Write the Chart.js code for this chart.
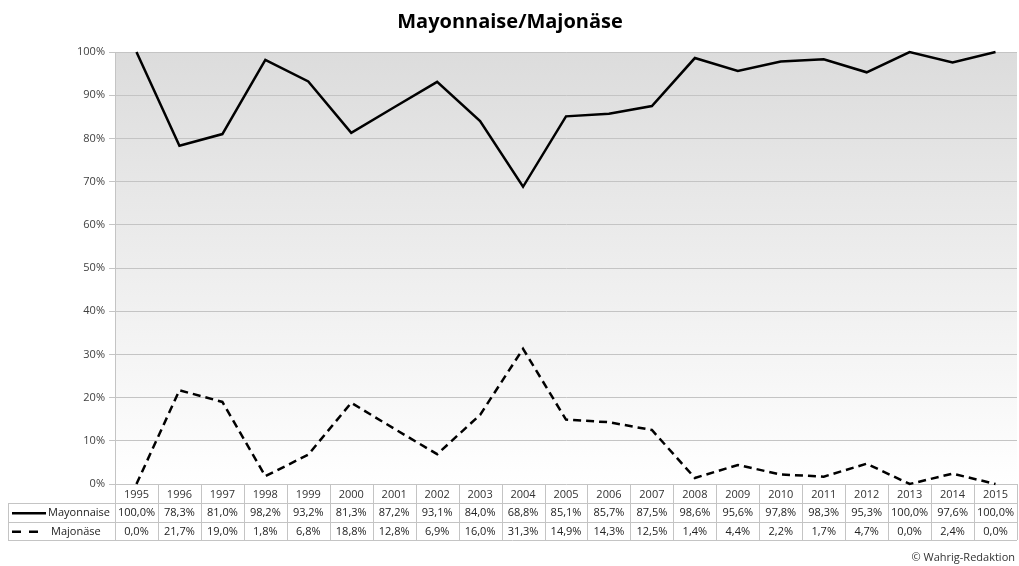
<!DOCTYPE html>
<html><head><meta charset="utf-8">
<script src="https://cdn.jsdelivr.net/npm/chart.js@4"></script>
<style>html,body{margin:0;padding:0;background:#fff}#wrap{width:1019px;height:566px;position:relative}</style>
</head><body><div id="wrap"><canvas id="c"></canvas></div>
<script>
const years = ['1995','1996','1997','1998','1999','2000','2001','2002','2003','2004','2005','2006','2007','2008','2009','2010','2011','2012','2013','2014','2015'];
const mayonnaise = [100.0,78.3,81.0,98.2,93.2,81.3,87.2,93.1,84.0,68.8,85.1,85.7,87.5,98.6,95.6,97.8,98.3,95.3,100.0,97.6,100.0];
const majonaese = [0.0,21.7,19.0,1.8,6.8,18.8,12.8,6.9,16.0,31.3,14.9,14.3,12.5,1.4,4.4,2.2,1.7,4.7,0.0,2.4,0.0];
const seriesNames = ['Mayonnaise','Majonäse'];
const chartTitle = 'Mayonnaise/Majonäse';
const credit = '© Wahrig-Redaktion';
const FONT = '"Open Sans", "Liberation Sans", sans-serif';

function fmt(v){ return v.toFixed(1).replace('.', ',') + '%'; }

const bgPlugin = {
  id: 'bg',
  beforeDraw(chart){
    const {ctx, chartArea:a} = chart;
    const g = ctx.createLinearGradient(0, a.top, 0, a.bottom);
    g.addColorStop(0, '#dcdcdc');
    g.addColorStop(1, '#ffffff');
    ctx.save();
    ctx.fillStyle = g;
    ctx.fillRect(a.left, a.top, a.right - a.left, a.bottom - a.top);
    ctx.restore();
  }
};

const tablePlugin = {
  id: 'table',
  afterDraw(chart){
    const {ctx, chartArea:a} = chart;
    const xs = chart.scales.x;
    const n = years.length;
    const w = (a.right - a.left) / n;
    const top = a.bottom;
    const r1 = top + 19, r2 = r1 + 18.5, r3 = r2 + 18.5;
    const tabLeft = 8;
    ctx.save();
    ctx.strokeStyle = '#c4c4c4';
    ctx.lineWidth = 1;
    ctx.beginPath();
    for (let i = 0; i <= n; i++) {
      const x = Math.round((i < n ? xs.getPixelForValue(i) - w/2 : xs.getPixelForValue(n-1) + w/2)) + 0.5;
      ctx.moveTo(x, top); ctx.lineTo(x, r3);
    }
    ctx.moveTo(tabLeft + 0.5, r1); ctx.lineTo(tabLeft + 0.5, r3);
    [r1, r2, r3].forEach(y => { const yy = Math.round(y) + 0.5; ctx.moveTo(tabLeft, yy); ctx.lineTo(a.right, yy); });
    ctx.stroke();

    ctx.font = '11px ' + FONT;
    ctx.textAlign = 'center';
    ctx.textBaseline = 'middle';
    for (let i = 0; i < n; i++) {
      const cx = xs.getPixelForValue(i);
      ctx.fillStyle = '#333';
      ctx.fillText(years[i], cx, (top + r1)/2 + 1);
      ctx.fillStyle = '#222';
      ctx.fillText(fmt(mayonnaise[i]), cx, (r1 + r2)/2 + 1);
      ctx.fillText(fmt(majonaese[i]), cx, (r2 + r3)/2 + 1);
    }
    ctx.textAlign = 'left';
    ctx.fillText(seriesNames[0], 48, (r1 + r2)/2 + 1);
    ctx.fillText(seriesNames[1], 51, (r2 + r3)/2 + 1);
    ctx.strokeStyle = '#000';
    ctx.lineWidth = 2.5;
    ctx.beginPath();
    ctx.moveTo(12, (r1 + r2)/2 + 1); ctx.lineTo(46, (r1 + r2)/2 + 1);
    ctx.stroke();
    ctx.setLineDash([9, 8]);
    ctx.beginPath();
    ctx.moveTo(12, (r2 + r3)/2 + 1); ctx.lineTo(42, (r2 + r3)/2 + 1);
    ctx.stroke();
    ctx.setLineDash([]);

    ctx.fillStyle = '#000';
    ctx.font = 'bold 20px ' + FONT;
    ctx.textAlign = 'center';
    ctx.fillText(chartTitle, 510, 22);
    ctx.fillStyle = '#333';
    ctx.font = '11px ' + FONT;
    ctx.textAlign = 'right';
    ctx.fillText(credit, 1015, 558);
    ctx.restore();
  }
};

new Chart(document.getElementById('c'), {
  type: 'line',
  data: {
    labels: years,
    datasets: [
      { label: seriesNames[0], data: mayonnaise, borderColor: '#000', borderWidth: 2.5, pointRadius: 0, tension: 0, clip: false },
      { label: seriesNames[1], data: majonaese, borderColor: '#000', borderWidth: 2.5, borderDash: [8, 5], pointRadius: 0, tension: 0, clip: false }
    ]
  },
  options: {
    responsive: true,
    maintainAspectRatio: false,
    animation: false,
    devicePixelRatio: 1,
    layout: { padding: { top: 52, right: 2, left: 0, bottom: 0 } },
    plugins: { legend: { display: false }, title: { display: false }, tooltip: { enabled: false } },
    scales: {
      x: {
        offset: true,
        ticks: { display: false },
        grid: { display: false },
        border: { display: false },
        afterFit(s){ s.height = 82; }
      },
      y: {
        min: 0, max: 100,
        ticks: { stepSize: 10, callback: v => v + '%', color: '#404040', font: { size: 11, family: FONT }, padding: 4 },
        grid: { color: '#c4c4c4', tickLength: 6, drawTicks: true },
        border: { display: true, color: '#c4c4c4' },
        afterFit(s){ s.width = 115; }
      }
    }
  },
  plugins: [bgPlugin, tablePlugin]
});
</script>
</body></html>
